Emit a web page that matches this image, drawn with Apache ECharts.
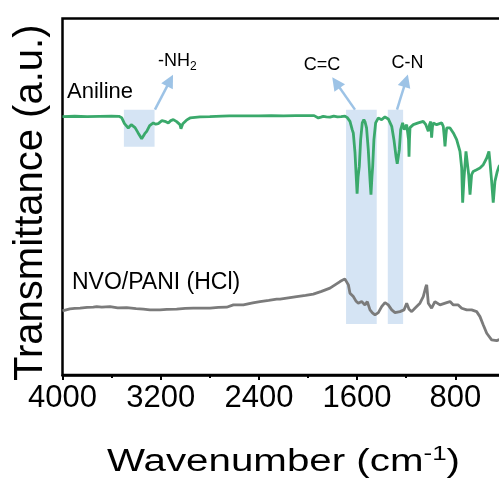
<!DOCTYPE html>
<html>
<head>
<meta charset="utf-8">
<script src="https://cdn.jsdelivr.net/npm/echarts@6/dist/echarts.min.js"></script>
<style>
html, body { margin: 0; padding: 0; background: #fff; }
#chart { width: 499px; height: 482px; }
</style>
</head>
<body>
<div id="chart"></div>
<script>
// FTIR spectra (wavenumber in cm-1, transmittance in offset a.u.)
var anilineWn = [4000, 3900, 3800, 3700, 3600, 3540, 3518, 3495, 3464, 3440, 3409, 3385, 3355, 3330, 3314, 3290, 3260, 3240, 3220, 3190, 3179, 3158, 3138, 3118, 3097, 3070, 3043, 3035, 3029, 3020, 2990, 2961, 2920, 2880, 2800, 2700, 2640, 2625, 2610, 2500, 2400, 2300, 2200, 2100, 2000, 1950, 1916, 1895, 1876, 1850, 1821, 1790, 1760, 1753, 1730, 1699, 1680, 1658, 1640, 1631, 1617, 1608, 1600, 1592, 1582, 1571, 1558, 1545, 1536, 1523, 1509, 1495, 1487, 1479, 1473, 1463, 1449, 1427, 1400, 1373, 1346, 1318, 1300, 1283, 1273, 1256, 1245, 1229, 1216, 1196, 1186, 1181, 1177, 1173, 1169, 1142, 1102, 1061, 1040, 1033, 1020, 1010, 1000, 993, 986, 979, 952, 911, 898, 890, 884, 876, 870, 843, 816, 789, 762, 748, 740, 729, 713, 702, 691, 680, 667, 654, 626, 599, 572, 544, 526, 518, 504, 491, 477, 458, 444, 420, 400];
var anilineT = [258, 258.4, 258, 258.3, 258.5, 258.3, 257, 251, 246.7, 250, 247, 242, 236, 241, 243.3, 249, 251.7, 250.5, 251, 254, 255, 253, 251.7, 254, 255, 253, 250, 246, 244.3, 251, 254.5, 256.7, 257.3, 257.7, 258, 258.5, 258.8, 260.5, 258.7, 258.7, 258.8, 259, 258.7, 259, 259, 259, 256.7, 257.5, 258.3, 257.8, 257.5, 258.5, 257.8, 256.7, 258, 258.5, 257, 253.3, 245, 241.7, 221.7, 200, 181, 198, 208.3, 235, 251.7, 255, 253, 246.7, 225, 195, 180, 198, 208.3, 235, 251.7, 256.7, 255, 257.7, 255.7, 248.3, 235, 218.3, 211, 225, 245, 251.7, 245, 250, 249, 235, 218, 236, 247, 250, 251.7, 253.3, 250, 248.3, 243.3, 250, 253, 237, 248, 251.7, 250, 251.7, 248.3, 238, 228.3, 240, 246.7, 246.7, 241.7, 235, 223.3, 206.7, 172, 196.7, 223.3, 221.7, 200, 180, 200, 203.3, 205, 206.7, 210, 216.7, 223.3, 213.3, 193.3, 172, 193.3, 203.3, 208.3, 212, 214];

var nvoWn = [4000, 3993, 3940, 3900, 3857, 3800, 3749, 3721, 3680, 3613, 3550, 3477, 3400, 3342, 3287, 3206, 3150, 3070, 3000, 2934, 2880, 2798, 2730, 2663, 2608, 2527, 2450, 2391, 2320, 2255, 2228, 2160, 2092, 2020, 1957, 1890, 1821, 1780, 1739, 1700, 1685, 1671, 1658, 1631, 1610, 1590, 1576, 1563, 1536, 1517, 1495, 1475, 1454, 1427, 1400, 1373, 1346, 1318, 1291, 1251, 1218, 1196, 1177, 1155, 1129, 1088, 1061, 1040, 1033, 1020, 993, 966, 925, 870, 843, 816, 776, 748, 707, 667, 626, 599, 572, 544, 504, 463, 436, 400];
var nvoT = [64, 65, 66, 66.5, 66.7, 67.5, 67.7, 68.3, 67.8, 68.3, 67, 67.3, 66.3, 65.7, 65, 65, 65.5, 65.7, 66.5, 66.7, 66.7, 66.7, 67.5, 67.7, 70, 70, 72, 73.3, 74.5, 75.7, 75.7, 77, 78.3, 79.5, 80.7, 83.5, 86.7, 90, 93.3, 96, 97.7, 90, 81.7, 78.3, 74, 71.7, 72, 73.3, 70, 73.3, 65, 62, 60, 62.3, 68.3, 72.3, 70, 65, 62.3, 63.3, 65, 71.7, 65.7, 63.3, 66.7, 71.7, 78.3, 88, 90, 71.7, 66.7, 73.3, 70, 72.3, 73.3, 70, 70, 66.7, 65, 65, 63.3, 58.3, 50, 41.7, 35, 34.3, 35.7, 35];

// highlighted bands: [from, to] in cm-1, with top / bottom in a.u.
var bandWn = [[3500, 3250], [1690, 1440], [1350, 1225]];
var bandT = [[265, 228], [265, 51], [265, 51]];
// arrows: tail -> head
var arrowWn = [[3247, 3124], [1617, 1772], [1275, 1202]];
var arrowT = [[265, 294], [265, 292], [265, 294]];
// text notes
var noteText = ['Aniline', 'NVO/PANI (HCl)', '-NH{sub|2}', 'C=C', 'C-N'];
var noteWn = [3963, 3923, 3222, 1886, 1190];
var noteT = [282.3, 92.7, 313.3, 310, 311.5];
var noteAlign = ['left', 'left', 'left', 'center', 'center'];
var noteSize = [22, 23, 18, 18, 18];

var FONT = '"Liberation Sans", Arial, sans-serif';

function zip(a, b) {
  return a.map(function (v, i) { return [v, b[i]]; });
}

var chart = echarts.init(document.getElementById('chart'));

chart.setOption({
  animation: false,
  grid: {
    left: 62.5,
    top: 18.5,
    bottom: 107,
    right: -54.5,
    outerBoundsMode: 'none',
    containLabel: false,
    show: true,
    borderColor: '#000',
    borderWidth: 2.5,
    backgroundColor: 'transparent'
  },
  // x title is drawn a bit wider than the font, as in the figure
  graphic: [{
    type: 'text',
    x: 107,
    y: 444,
    scaleX: 1.3,
    silent: true,
    style: {
      text: '{m|Wavenumber (cm}{s|-1}{m|)}',
      align: 'left',
      verticalAlign: 'top',
      rich: {
        m: { fontSize: 31, fontFamily: FONT, fill: '#000', lineHeight: 36 },
        s: { fontSize: 20, fontFamily: FONT, fill: '#000', lineHeight: 20, verticalAlign: 'top' }
      }
    }
  }],
  xAxis: {
    type: 'value',
    min: 0,
    max: 4000,
    interval: 800,
    inverse: true,
    axisLine: { lineStyle: { color: '#000', width: 2.5 } },
    axisTick: { length: 5, lineStyle: { color: '#000', width: 2 } },
    minorTick: { show: true, splitNumber: 2, length: 3, lineStyle: { color: '#000', width: 2 } },
    axisLabel: {
      fontSize: 31,
      color: '#000',
      fontFamily: FONT,
      margin: 8,
      formatter: function (v) { return v === 0 ? '' : String(v); }
    },
    splitLine: { show: false }
  },
  yAxis: {
    type: 'value',
    min: 0,
    max: 356,
    name: 'Transmittance (a.u.)',
    nameLocation: 'middle',
    nameGap: 12,
    nameTextStyle: { fontSize: 40, color: '#000', fontFamily: FONT, padding: [0, 12, 0, 0] },
    axisLine: { show: true, lineStyle: { color: '#000', width: 2.5 } },
    axisTick: { show: false },
    axisLabel: { show: false },
    splitLine: { show: false }
  },
  series: [
    {
      name: 'notes',
      type: 'line',
      data: [],
      z: 1,
      silent: true,
      markArea: {
        silent: true,
        itemStyle: { color: '#d5e4f4' },
        data: bandWn.map(function (b, i) {
          return [{ coord: [b[0], bandT[i][0]] }, { coord: [b[1], bandT[i][1]] }];
        })
      },
      markLine: {
        silent: true,
        symbol: ['none', 'triangle'],
        symbolSize: 13,
        label: { show: false },
        lineStyle: { color: '#9dc3e6', width: 2.5, type: 'solid' },
        data: arrowWn.map(function (a, i) {
          return [{ coord: [a[0], arrowT[i][0]] }, { coord: [a[1], arrowT[i][1]] }];
        })
      },
      markPoint: {
        silent: true,
        symbol: 'circle',
        symbolSize: 1,
        itemStyle: { color: 'rgba(0,0,0,0)' },
        data: noteText.map(function (t, i) {
          return {
            coord: [noteWn[i], noteT[i]],
            label: {
              show: true,
              position: 'inside',
              formatter: t,
              align: noteAlign[i],
              fontSize: noteSize[i],
              color: '#000',
              fontFamily: FONT,
              rich: {
                sub: { fontSize: 12, color: '#000', fontFamily: FONT, padding: [10, 0, 0, 0] }
              }
            }
          };
        })
      }
    },
    {
      name: 'Aniline',
      type: 'line',
      z: 3,
      data: zip(anilineWn, anilineT),
      showSymbol: false,
      lineStyle: { color: '#3aa96b', width: 2.8 },
      itemStyle: { color: '#3aa96b' }
    },
    {
      name: 'NVO/PANI (HCl)',
      type: 'line',
      z: 3,
      data: zip(nvoWn, nvoT),
      showSymbol: false,
      lineStyle: { color: '#7b7b7b', width: 2.8 },
      itemStyle: { color: '#7b7b7b' }
    }
  ]
});
</script>
</body>
</html>
